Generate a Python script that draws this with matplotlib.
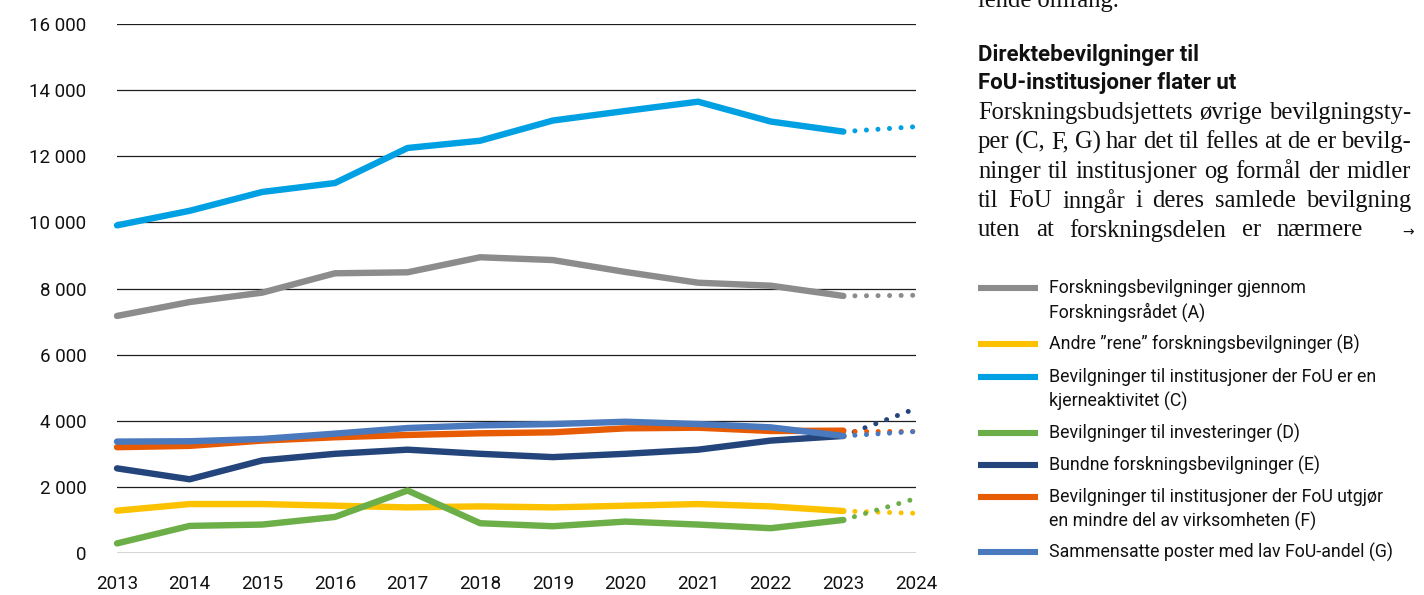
import matplotlib
matplotlib.use("Agg")
import matplotlib.pyplot as plt
from matplotlib.lines import Line2D
from matplotlib.ticker import FuncFormatter

# data (mill. kr)
years = [2013, 2014, 2015, 2016, 2017, 2018, 2019, 2020, 2021, 2022, 2023]
proj_years = [2023, 2024]

ser_a = [7170, 7590, 7875, 8460, 8490, 8945, 8860, 8500, 8175, 8085, 7775]
ser_b = [1280, 1480, 1480, 1430, 1380, 1410, 1380, 1430, 1480, 1410, 1270]
ser_c = [9910, 10350, 10920, 11190, 12250, 12470, 13080, 13370, 13650, 13050, 12745]
ser_d = [290, 820, 860, 1090, 1890, 900, 810, 950, 860, 750, 1000]
ser_e = [2560, 2230, 2800, 3000, 3125, 3000, 2900, 3000, 3125, 3400, 3540]
ser_f = [3200, 3240, 3400, 3500, 3570, 3620, 3650, 3770, 3790, 3690, 3700]
ser_g = [3370, 3380, 3450, 3610, 3780, 3860, 3900, 3970, 3900, 3800, 3540]

proj_2024 = {"A": 7795, "B": 1200, "C": 12895, "D": 1650, "E": 4370, "F": 3700, "G": 3675}

labels = {
    "A": "Forskningsbevilgninger gjennom\nForskningsrådet (A)",
    "B": "Andre \u201drene\u201d forskningsbevilgninger (B)",
    "C": "Bevilgninger til institusjoner der FoU er en\nkjerneaktivitet (C)",
    "D": "Bevilgninger til investeringer (D)",
    "E": "Bundne forskningsbevilgninger (E)",
    "F": "Bevilgninger til institusjoner der FoU utgjør\nen mindre del av virksomheten (F)",
    "G": "Sammensatte poster med lav FoU-andel (G)",
}
colors = {"A": "#8c8c8c", "B": "#fcc200", "C": "#00a0e3", "D": "#6cae47",
          "E": "#23457b", "F": "#e85b05", "G": "#4a79bd"}
series = {"A": ser_a, "B": ser_b, "C": ser_c, "D": ser_d, "E": ser_e, "F": ser_f, "G": ser_g}

y_ticks = [0, 2000, 4000, 6000, 8000, 10000, 12000, 14000, 16000]

heading = ["Direktebevilgninger til", "FoU-institusjoner flater ut"]
body = [
    "Forskningsbudsjettets øvrige bevilgningsty-",
    "per (C, F, G) har det til felles at de er bevilg-",
    "ninger til institusjoner og formål der midler",
    "til FoU inngår i deres samlede bevilgning",
    "uten at forskningsdelen er nærmere",
]

W, H = 1424, 595
plt.rcParams["font.family"] = ["Roboto", "DejaVu Sans"]
fig = plt.figure(figsize=(W / 100, H / 100), dpi=100)
ax = fig.add_axes([117 / W, 1 - 553 / H, (916 - 117) / W, (553 - 24) / H])

for t in y_ticks:
    ax.axhline(t, color="#d4d4d4" if t == 0 else "#1e1e1e",
               lw=1.4 if t == 0 else 0.9, zorder=1)

for key in "ABCDEFG":
    vals = series[key]
    ax.plot(years, vals, color=colors[key], lw=4.6, solid_capstyle="round",
            solid_joinstyle="round", clip_on=False, zorder=3)
    ax.plot(proj_years, [vals[-1], proj_2024[key]], color=colors[key], lw=3.6,
            linestyle=(0, (0.01, 2.3)), dash_capstyle="round", clip_on=False, zorder=3)

ax.set_xlim(2013, 2024)
ax.set_ylim(0, 16000)
ax.set_yticks(y_ticks)
ax.set_xticks(list(range(2013, 2025)))
ax.yaxis.set_major_formatter(FuncFormatter(lambda v, p: f"{int(v):,}".replace(",", " ")))
ax.tick_params(length=0, labelsize=13.5, colors="#111111")
ax.tick_params(axis="y", pad=22)
ax.tick_params(axis="x", pad=16)
for s in ax.spines.values():
    s.set_visible(False)

# legend, drawn by hand in pixel positions
leg_rows = {"A": 288, "B": 344, "C": 377, "D": 433, "E": 465, "F": 497, "G": 552}
for key, yc in leg_rows.items():
    fig.add_artist(Line2D([978 / W, 1038 / W], [1 - yc / H] * 2, color=colors[key],
                          lw=4.4, solid_capstyle="butt"))
    first, *rest = labels[key].split("\n")
    fig.text(1049 / W, 1 - yc / H, first, fontsize=12.8, va="center",
             ha="left", color="#111111")
    if rest:
        fig.text(1049 / W, 1 - (yc + 24.5) / H, rest[0], fontsize=12.8, va="center",
                 ha="left", color="#111111")

# running text on the right
for i, line in enumerate(heading):
    fig.text(978 / W, 1 - (55 + i * 28) / H, line, fontsize=16, fontweight="bold",
             va="center", ha="left", color="#111111")

fig.canvas.draw()
r = fig.canvas.get_renderer()

# pick the serif size so a normally spaced line fills the column
probe = fig.text(0, 0, body[2], fontsize=10, family="Liberation Serif")
body_size = 10 * 428 / probe.get_window_extent(r).width
probe.remove()

fig.text(978 / W, 1 - 1 / H, "lende omfang.", fontsize=body_size, family="Liberation Serif",
         va="center", ha="left", color="#111111")


def justify(words, x0, x1, yc):
    ts = [fig.text(0, 1 - yc / H, w, fontsize=body_size, family="Liberation Serif",
                   va="center", ha="left", color="#111111") for w in words]
    ws = [t.get_window_extent(r).width for t in ts]
    gap = (x1 - x0 - sum(ws)) / (len(words) - 1)
    x = x0
    for t, w in zip(ts, ws):
        t.set_x(x / W)
        x += w + gap


for i, line in enumerate(body):
    x1 = 1363 if i == len(body) - 1 else 1411
    justify(line.split(" "), 978, x1, 113 + i * 29.3)
fig.text(1414 / W, 1 - 232 / H, "\u2192", fontsize=10, family="DejaVu Sans",
         va="center", ha="right", color="#111111")

fig.savefig("out.png", dpi=100)
